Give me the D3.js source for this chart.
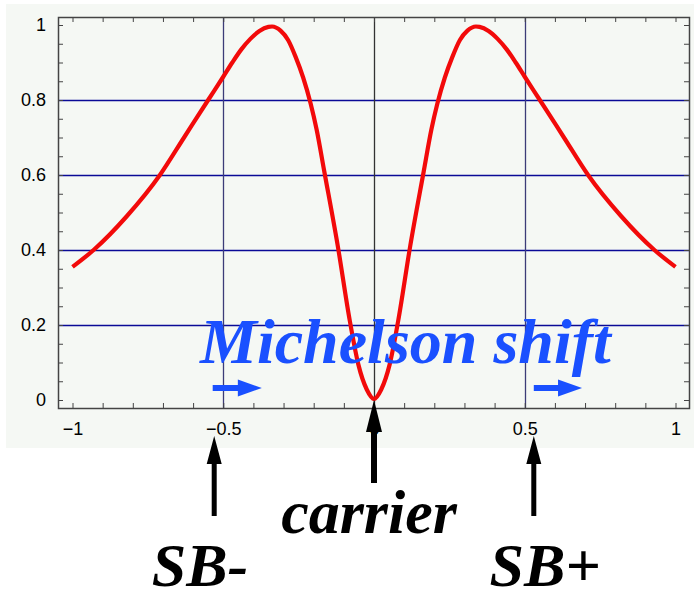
<!DOCTYPE html>
<html>
<head>
<meta charset="utf-8">
<script src="https://cdn.jsdelivr.net/npm/d3@7"></script>
<style>
  body { margin: 0; background: #ffffff; }
  .tick text { font-family: "Liberation Sans", Arial, sans-serif; font-size: 18px; fill: #000; }
  .ann { font-family: "Liberation Serif", "Times New Roman", serif; font-weight: bold; font-style: italic; }
</style>
</head>
<body>
<div id="chart"></div>
<script>
// Kurve
const xVals = [-1, -0.93, -0.82, -0.71, -0.63, -0.55, -0.5, -0.47, -0.44, -0.41, -0.38, -0.35, -0.338,
               -0.31, -0.285, -0.26, -0.235, -0.21, -0.19, -0.165, -0.12, -0.08, -0.052, -0.024, 0,
               0.024, 0.052, 0.08, 0.12, 0.165, 0.19, 0.21, 0.235, 0.26, 0.285, 0.31,
               0.338, 0.35, 0.38, 0.41, 0.44, 0.47, 0.5, 0.55, 0.63, 0.71, 0.82, 0.93, 1];
const yVals = [0.355, 0.4, 0.49, 0.6, 0.7, 0.8, 0.862, 0.9, 0.935, 0.963, 0.984, 0.995, 0.996,
               0.985, 0.96, 0.915, 0.86, 0.79, 0.72, 0.61, 0.41, 0.21, 0.095, 0.028, 0.003,
               0.028, 0.095, 0.21, 0.41, 0.61, 0.72, 0.79, 0.86, 0.915, 0.96, 0.985,
               0.996, 0.995, 0.984, 0.963, 0.935, 0.9, 0.862, 0.8, 0.7, 0.6, 0.49, 0.4, 0.355];

const xMajor = [-1, -0.5, 0, 0.5, 1];
const yMajor = [0, 0.2, 0.4, 0.6, 0.8, 1];
const xGrid = [-0.5, 0, 0.5];
const yGrid = [0.2, 0.4, 0.6, 0.8];

const width = 694, height = 592;

const svg = d3.select("#chart").append("svg")
  .attr("width", width)
  .attr("height", height);

// Skalen: x -1..1 -> 72.5..675.5, y 0..1 -> 400..25
const x = d3.scaleLinear().domain([-1, 1]).range([72.5, 675.5]);
const y = d3.scaleLinear().domain([0, 1]).range([400, 25]);

// Rahmen des Plots
const fx0 = 58, fx1 = 689, fy0 = 17, fy1 = 408;

// Hintergrund
svg.append("rect")
  .attr("x", 6).attr("y", 4)
  .attr("width", 688).attr("height", 444)
  .attr("fill", "#f5f8f4");

// Gitter
svg.append("g").selectAll("line")
  .data(yGrid).enter().append("line")
    .attr("x1", fx0).attr("x2", fx1)
    .attr("y1", d => Math.round(y(d)) + 0.5)
    .attr("y2", d => Math.round(y(d)) + 0.5)
    .attr("stroke", "#0a0a96").attr("stroke-width", 1.3);

svg.append("g").selectAll("line")
  .data(xGrid).enter().append("line")
    .attr("x1", d => Math.round(x(d)) + 0.5)
    .attr("x2", d => Math.round(x(d)) + 0.5)
    .attr("y1", fy0).attr("y2", fy1)
    .attr("stroke", d => d === 0 ? "#333333" : "#3c3c78").attr("stroke-width", 1.3);

// Achsen (Ticks nach innen)
const xMinor = d3.range(-10, 11).map(i => i / 10);
const yMinor = d3.range(0, 21).map(i => i / 20);
const fmt = d => (d < 0 ? "\u2212" : "") + d3.format("")(Math.abs(d));

const axisStyle = g => {
  g.select(".domain").remove();
  g.selectAll(".tick line").attr("stroke", "#444");
};

svg.append("g").attr("transform", `translate(0,${fy1})`)
  .call(d3.axisBottom(x).tickValues(xMinor).tickSize(-5).tickFormat(""))
  .call(axisStyle);
svg.append("g").attr("transform", `translate(0,${fy1})`)
  .call(d3.axisBottom(x).tickValues(xMajor).tickSize(0).tickPadding(14).tickFormat(fmt))
  .call(axisStyle);
svg.append("g").attr("transform", `translate(0,${fy0})`)
  .call(d3.axisTop(x).tickValues(xMinor).tickSize(-5).tickFormat(""))
  .call(axisStyle);

svg.append("g").attr("transform", `translate(${fx0},0)`)
  .call(d3.axisLeft(y).tickValues(yMinor).tickSize(-5).tickFormat(""))
  .call(axisStyle);
svg.append("g").attr("transform", `translate(${fx0},0)`)
  .call(d3.axisLeft(y).tickValues(yMajor).tickSize(0).tickPadding(12).tickFormat(fmt))
  .call(axisStyle);
svg.append("g").attr("transform", `translate(${fx1},0)`)
  .call(d3.axisRight(y).tickValues(yMinor).tickSize(-5).tickFormat(""))
  .call(axisStyle);

svg.append("rect")
  .attr("x", fx0 + 0.5).attr("y", fy0 + 0.5)
  .attr("width", fx1 - fx0).attr("height", fy1 - fy0)
  .attr("fill", "none").attr("stroke", "#444").attr("stroke-width", 1.5);

// Kurve
const pts = xVals.map((v, i) => [v, yVals[i]]);
const line = d3.line()
  .x(d => x(d[0]))
  .y(d => y(d[1]))
  .curve(d3.curveMonotoneX);

svg.append("path")
  .attr("d", line(pts))
  .attr("fill", "none")
  .attr("stroke", "#f20a0a")
  .attr("stroke-width", 4.2)
  .attr("stroke-linejoin", "round");

// Beschriftung "Michelson shift"
const blue = "#1a50ff";
svg.append("text").attr("class", "ann")
  .attr("x", 200).attr("y", 363)
  .attr("font-size", 64)
  .attr("fill", blue)
  .text("Michelson shift");

// Pfeil-Hilfsfunktionen
function hArrow(x0, x1, yy, shaft, headW, headL, color) {
  const p = d3.path();
  p.moveTo(x0, yy - shaft / 2);
  p.lineTo(x1 - headL, yy - shaft / 2);
  p.lineTo(x1 - headL, yy - headW / 2);
  p.lineTo(x1, yy);
  p.lineTo(x1 - headL, yy + headW / 2);
  p.lineTo(x1 - headL, yy + shaft / 2);
  p.lineTo(x0, yy + shaft / 2);
  p.closePath();
  svg.append("path").attr("d", p.toString()).attr("fill", color);
}
function vArrow(xx, tip, bottom, shaft, headW, headL, color) {
  const p = d3.path();
  p.moveTo(xx, tip);
  p.lineTo(xx + headW / 2, tip + headL);
  p.lineTo(xx + shaft / 2, tip + headL);
  p.lineTo(xx + shaft / 2, bottom);
  p.lineTo(xx - shaft / 2, bottom);
  p.lineTo(xx - shaft / 2, tip + headL);
  p.lineTo(xx - headW / 2, tip + headL);
  p.closePath();
  svg.append("path").attr("d", p.toString()).attr("fill", color);
}

// blaue Pfeile
hArrow(x(-0.535), x(-0.372), y(0.032), 6, 17, 24, blue);
hArrow(x(0.53), x(0.69), y(0.032), 6, 17, 24, blue);

// schwarze Pfeile
vArrow(x(-0.53), 436, 516, 5, 15, 28, "#000");
vArrow(x(0), y(0), 483, 6, 16, 32, "#000");
vArrow(x(0.53), 436, 516, 5, 15, 28, "#000");

// Beschriftungen unten
svg.append("text").attr("class", "ann")
  .attr("x", 369).attr("y", 533)
  .attr("text-anchor", "middle")
  .attr("font-size", 62)
  .text("carrier");
svg.append("text").attr("class", "ann")
  .attr("x", 200).attr("y", 586)
  .attr("text-anchor", "middle")
  .attr("font-size", 62)
  .text("SB-");
svg.append("text").attr("class", "ann")
  .attr("x", 545).attr("y", 586)
  .attr("text-anchor", "middle")
  .attr("font-size", 62)
  .text("SB+");
</script>
</body>
</html>
